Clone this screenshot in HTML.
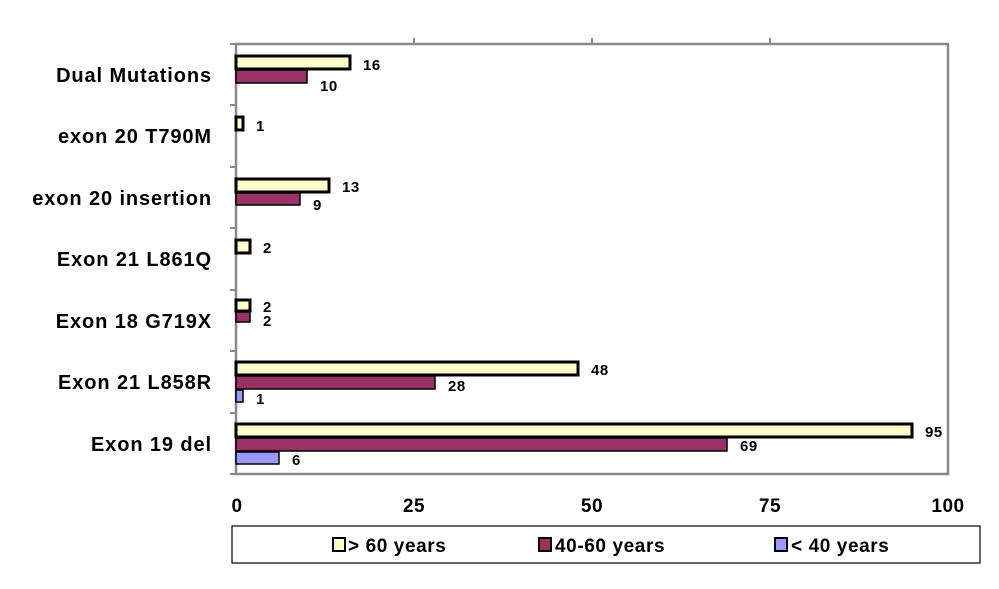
<!DOCTYPE html>
<html><head><style>
body{margin:0;background:#fff;}
svg text{font-family:"Liberation Sans",sans-serif;font-weight:bold;fill:#000;}
</style></head><body>
<svg width="999" height="584" xmlns="http://www.w3.org/2000/svg">
<rect x="0" y="0" width="999" height="584" fill="#fff"/>
<rect x="236" y="44" width="712" height="430" fill="none" stroke="#888" stroke-width="2.5"/>
<g stroke="#888" stroke-width="2">
<line x1="414" y1="38" x2="414" y2="44"/><line x1="592" y1="38" x2="592" y2="44"/><line x1="770" y1="38" x2="770" y2="44"/>
<line x1="230" y1="44" x2="236" y2="44"/><line x1="230" y1="105" x2="236" y2="105"/><line x1="230" y1="167" x2="236" y2="167"/><line x1="230" y1="228" x2="236" y2="228"/><line x1="230" y1="290" x2="236" y2="290"/><line x1="230" y1="351" x2="236" y2="351"/><line x1="230" y1="413" x2="236" y2="413"/><line x1="230" y1="474" x2="236" y2="474"/>
</g>
<g stroke="#000">
<rect x="236" y="56" width="114" height="13" fill="#ffffcc" stroke-width="3"/>
<rect x="236" y="70" width="71" height="13" fill="#993366" stroke-width="1.5"/>
<rect x="236" y="117" width="7" height="13" fill="#ffffcc" stroke-width="3"/>
<rect x="236" y="179" width="93" height="13" fill="#ffffcc" stroke-width="3"/>
<rect x="236" y="193" width="64" height="12" fill="#993366" stroke-width="1.5"/>
<rect x="236" y="240" width="14" height="13" fill="#ffffcc" stroke-width="3"/>
<rect x="236" y="300" width="14" height="11" fill="#ffffcc" stroke-width="3"/>
<rect x="236" y="312" width="14" height="10" fill="#993366" stroke-width="1.5"/>
<rect x="236" y="362" width="342" height="13" fill="#ffffcc" stroke-width="3"/>
<rect x="236" y="376" width="199" height="13" fill="#993366" stroke-width="1.5"/>
<rect x="236" y="390" width="7" height="12" fill="#9999ff" stroke-width="1.5"/>
<rect x="236" y="424" width="676" height="13" fill="#ffffcc" stroke-width="3"/>
<rect x="236" y="438" width="491" height="13" fill="#993366" stroke-width="1.5"/>
<rect x="236" y="452" width="43" height="12" fill="#9999ff" stroke-width="1.5"/>
</g>
<g font-size="15" letter-spacing="0.5">
<text x="363" y="70">16</text><text x="320" y="91">10</text>
<text x="256" y="131">1</text>
<text x="342" y="192">13</text><text x="313" y="210">9</text>
<text x="263" y="253">2</text>
<text x="263" y="312">2</text><text x="263" y="326">2</text>
<text x="591" y="375">48</text><text x="448" y="391">28</text><text x="256" y="404">1</text>
<text x="925" y="437">95</text><text x="740" y="451">69</text><text x="292" y="465">6</text>
</g>
<g font-size="20" text-anchor="end" letter-spacing="0.9">
<text x="212" y="82">Dual Mutations</text>
<text x="212" y="143">exon 20 T790M</text>
<text x="212" y="205">exon 20 insertion</text>
<text x="212" y="266">Exon 21 L861Q</text>
<text x="212" y="328">Exon 18 G719X</text>
<text x="212" y="389">Exon 21 L858R</text>
<text x="212" y="451">Exon 19 del</text>
</g>
<g font-size="19" text-anchor="middle" letter-spacing="0.5">
<text x="237" y="512">0</text><text x="414" y="512">25</text><text x="592" y="512">50</text><text x="770" y="512">75</text><text x="948" y="512">100</text>
</g>
<rect x="232" y="526" width="748" height="37" fill="#fff" stroke="#000" stroke-width="1.2"/>
<g stroke="#000" stroke-width="2">
<rect x="333" y="538" width="12" height="13" fill="#ffffcc"/>
<rect x="539" y="538" width="12" height="13" fill="#993366"/>
<rect x="775" y="538" width="12" height="13" fill="#9999ff"/>
</g>
<g font-size="19" letter-spacing="0.6">
<text x="348" y="552">&gt; 60 years</text>
<text x="555" y="552">40-60 years</text>
<text x="791" y="552">&lt; 40 years</text>
</g>
</svg>
</body></html>
